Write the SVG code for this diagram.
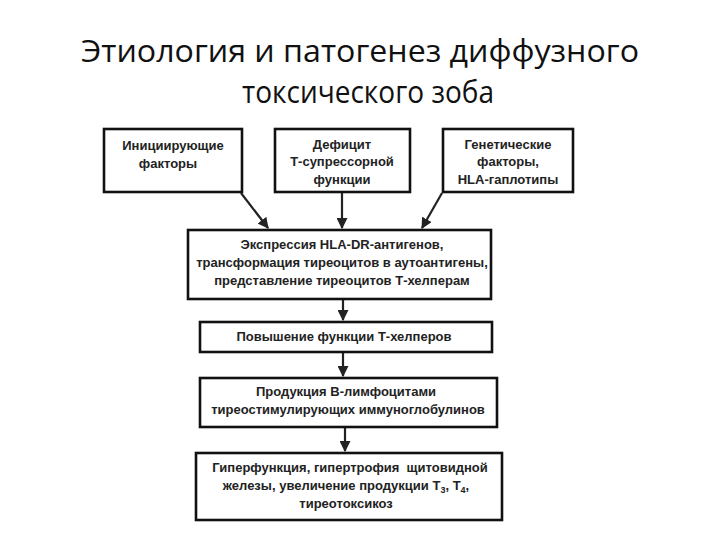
<svg xmlns="http://www.w3.org/2000/svg" width="720" height="540" viewBox="0 0 720 540">
<style>
.title{font-family:"Open Sans","Liberation Sans",sans-serif;font-size:31px;fill:#111;text-anchor:middle}
.box{fill:#fff;stroke:#111;stroke-width:2.6}
.t{font-family:"Liberation Sans",Arial,sans-serif;font-size:13px;font-weight:bold;fill:#222;text-anchor:middle}
.c{stroke:#222;stroke-width:2.2;fill:none}
</style>
<defs>
<marker id="ah" viewBox="0 0 10 10" refX="9" refY="5" markerWidth="5" markerHeight="5" orient="auto" markerUnits="strokeWidth">
<path d="M0,0 L10,5 L0,10 z" fill="#222"/>
</marker>
</defs>
<rect width="720" height="540" fill="#fff"/>
<g id="title">
<text class="title" x="360" y="62" textLength="558" lengthAdjust="spacingAndGlyphs">Этиология и патогенез диффузного</text>
<text class="title" x="368" y="103" textLength="252" lengthAdjust="spacingAndGlyphs">токсического зоба</text>
</g>
<g id="connectors">
<line class="c" x1="241" y1="193" x2="268" y2="228" marker-end="url(#ah)"/>
<line class="c" x1="342" y1="193" x2="342" y2="228" marker-end="url(#ah)"/>
<line class="c" x1="442" y1="193" x2="422" y2="228" marker-end="url(#ah)"/>
<line class="c" x1="343" y1="300" x2="343" y2="320" marker-end="url(#ah)"/>
<line class="c" x1="343" y1="353" x2="343" y2="376" marker-end="url(#ah)"/>
<line class="c" x1="345" y1="428" x2="345" y2="451" marker-end="url(#ah)"/>
</g>
<g id="n1">
<rect class="box" x="104" y="129" width="138" height="63"/>
<text class="t" x="173" y="150">Инициирующие</text>
<text class="t" x="168" y="168">факторы</text>
</g>
<g id="n2">
<rect class="box" x="275" y="129" width="135" height="63"/>
<text class="t" x="342" y="149">Дефицит</text>
<text class="t" x="342" y="166">Т-супрессорной</text>
<text class="t" x="342" y="184">функции</text>
</g>
<g id="n3">
<rect class="box" x="443" y="129" width="130" height="63"/>
<text class="t" x="508" y="149">Генетические</text>
<text class="t" x="508" y="166">факторы,</text>
<text class="t" x="508" y="184">HLA-гаплотипы</text>
</g>
<g id="n4">
<rect class="box" x="188" y="230" width="303" height="69"/>
<text class="t" x="342" y="249">Экспрессия HLA-DR-антигенов,</text>
<text class="t" x="342" y="267">трансформация тиреоцитов в аутоантигены,</text>
<text class="t" x="342" y="285">представление тиреоцитов Т-хелперам</text>
</g>
<g id="n5">
<rect class="box" x="200" y="322" width="292" height="30"/>
<text class="t" x="344" y="341">Повышение функции Т-хелперов</text>
</g>
<g id="n6">
<rect class="box" x="200" y="378" width="297" height="49"/>
<text class="t" x="346" y="396">Продукция В-лимфоцитами</text>
<text class="t" x="348" y="414">тиреостимулирующих иммуноглобулинов</text>
</g>
<g id="n7">
<rect class="box" x="196" y="453" width="306" height="67"/>
<text class="t" x="350" y="472" xml:space="preserve">Гиперфункция, гипертрофия  щитовидной</text>
<text class="t" x="346" y="490">железы, увеличение продукции Т<tspan font-size="9" dy="3">3</tspan><tspan dy="-3">, Т</tspan><tspan font-size="9" dy="3">4</tspan><tspan dy="-3">,</tspan></text>
<text class="t" x="346" y="508">тиреотоксикоз</text>
</g>
</svg>
